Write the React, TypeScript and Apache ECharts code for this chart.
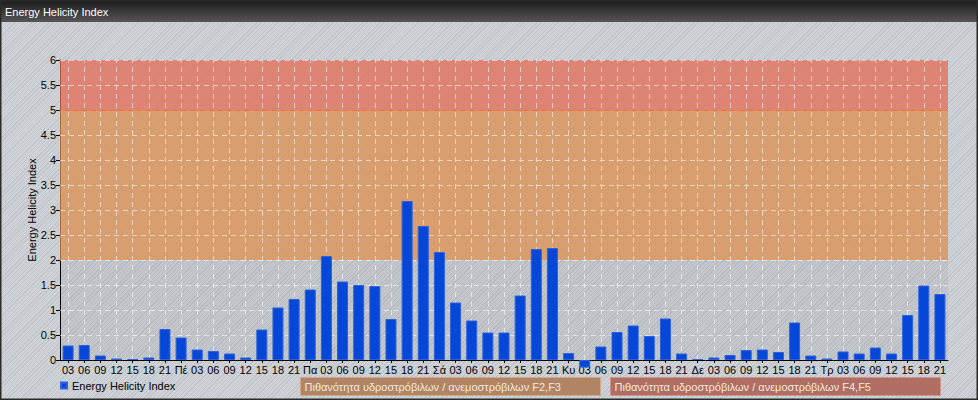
import React, { useEffect, useRef } from 'react';
import * as echarts from 'echarts';

const categories = [
  '03', '06', '09', '12', '15', '18', '21', 'Πέ',
  '03', '06', '09', '12', '15', '18', '21', 'Πα',
  '03', '06', '09', '12', '15', '18', '21', 'Σά',
  '03', '06', '09', '12', '15', '18', '21', 'Κυ',
  '03', '06', '09', '12', '15', '18', '21', 'Δε',
  '03', '06', '09', '12', '15', '18', '21', 'Τρ',
  '03', '06', '09', '12', '15', '18', '21',
];

const values = [
  0.29, 0.30, 0.09, 0.03, 0.02, 0.05, 0.62, 0.45,
  0.21, 0.18, 0.13, 0.05, 0.61, 1.05, 1.22, 1.41,
  2.08, 1.57, 1.50, 1.48, 0.82, 3.18, 2.68, 2.16,
  1.15, 0.79, 0.55, 0.55, 1.29, 2.22, 2.24, 0.14,
  -0.15, 0.27, 0.56, 0.69, 0.48, 0.83, 0.13, 0.02,
  0.05, 0.10, 0.20, 0.21, 0.16, 0.75, 0.09, 0.03,
  0.17, 0.13, 0.25, 0.13, 0.90, 1.49, 1.32,
];

const seriesName = 'Energy Helicity Index';
const chartTitle = 'Energy Helicity Index';
const yTickValues = [0.5, 1, 1.5, 2, 2.5, 3, 3.5, 4, 4.5, 5, 5.5, 6];
const zoneRanges = [[2, 5], [5, 6]];
const zoneLabels = [
  'Πιθανότητα υδροστρόβιλων / ανεμοστρόβιλων F2,F3',
  'Πιθανότητα υδροστρόβιλων / ανεμοστρόβιλων F4,F5',
];

const FONT = 'Liberation Sans, Arial, sans-serif';

export default function App() {
  const ref = useRef<HTMLDivElement>(null);

  useEffect(() => {
    if (!ref.current) return;
    const chart = echarts.init(ref.current, null, { renderer: 'svg' });
    const zoneColors = ['rgba(224,145,83,0.75)', 'rgba(232,111,88,0.75)'];
    const boxStyles = [
      { x: 300.5, w: 300, fill: '#b08464', stroke: '#cfa888' },
      { x: 610.5, w: 330, fill: '#b06e62', stroke: '#cc968a' },
    ];

    const markLineData: any[] = [];
    yTickValues.forEach((v) => markLineData.push({ yAxis: v }));
    categories.forEach((_, i) => markLineData.push({ xAxis: i }));
    markLineData.push({
      yAxis: zoneRanges[1][0],
      lineStyle: { type: 'solid', color: 'rgba(240,100,40,0.7)', width: 1 },
    });

    chart.setOption({
      animation: false,
      textStyle: { fontFamily: FONT },
      title: {
        text: chartTitle,
        left: 0,
        top: 1,
        textStyle: { color: '#ffffff', fontSize: 11, fontWeight: 'normal', fontFamily: FONT },
        z: 10,
      },
      legend: {
        data: [seriesName],
        left: 55,
        top: 375,
        icon: 'rect',
        itemWidth: 6,
        itemHeight: 6,
        itemGap: 4,
        textStyle: { fontSize: 11, color: '#000', fontFamily: FONT },
      },
      grid: {
        left: 60,
        right: 30,
        top: 60,
        bottom: 40,
        show: true,
        backgroundColor: 'rgba(50,60,70,0.07)',
        borderWidth: 0,
      },
      xAxis: {
        type: 'category',
        data: categories,
        axisLine: { lineStyle: { color: '#000', width: 1 } },
        axisTick: { show: true, length: 3, alignWithLabel: true, interval: 0, lineStyle: { color: '#000' } },
        axisLabel: { interval: 0, fontSize: 11, color: '#000', margin: 4, fontFamily: FONT },
        splitLine: { show: false },
      },
      yAxis: {
        type: 'value',
        min: 0,
        max: 6,
        interval: 0.5,
        name: 'Energy Helicity Index',
        nameLocation: 'middle',
        nameGap: 23,
        nameMoveOverlap: false,
        nameTextStyle: { fontSize: 11, color: '#000', fontFamily: FONT },
        axisLine: { show: true, lineStyle: { color: '#000', width: 1 } },
        axisTick: { show: true, length: 4, lineStyle: { color: '#000' } },
        axisLabel: { fontSize: 11, color: '#000', margin: 4, fontFamily: FONT },
        splitLine: { show: false },
      },
      series: [
        {
          name: seriesName,
          type: 'bar',
          data: values,
          barWidth: 11,
          clip: false,
          itemStyle: { color: '#0647d8', borderColor: '#2d62dc', borderWidth: 1 },
          markArea: {
            silent: true,
            z: 1,
            data: zoneRanges.map((r, i) => [
              { yAxis: r[0], itemStyle: { color: zoneColors[i] } },
              { yAxis: r[1] },
            ]),
          },
          markLine: {
            silent: true,
            z: 1.5,
            symbol: ['none', 'none'],
            label: { show: false },
            lineStyle: { color: 'rgba(255,255,255,0.55)', type: [5, 4], width: 1 },
            data: markLineData,
          },
        },
      ],
      graphic: [
        {
          type: 'rect',
          z: 5,
          shape: { x: 0, y: 0, width: 978, height: 22 },
          style: {
            fill: new echarts.graphic.LinearGradient(0, 0, 0, 1, [
              { offset: 0, color: '#1b1b1b' },
              { offset: 1, color: '#565656' },
            ]),
          },
        },
        {
          type: 'rect',
          z: 6,
          shape: { x: 0.5, y: 0.5, width: 977, height: 399 },
          style: { fill: 'none', stroke: '#2a2a2a', lineWidth: 2 },
          silent: true,
        },
        ...zoneLabels.flatMap((t, i) => [
          {
            type: 'rect',
            z: 5,
            shape: { x: boxStyles[i].x, y: 377.5, width: boxStyles[i].w, height: 18 },
            style: { fill: boxStyles[i].fill, stroke: boxStyles[i].stroke, lineWidth: 1 },
          },
          {
            type: 'text',
            z: 6,
            x: boxStyles[i].x + 4,
            y: 387,
            style: {
              text: t,
              fill: '#f4e9df',
              font: '11px ' + FONT,
              verticalAlign: 'middle',
            },
          },
        ]),
      ],
    });
    return () => chart.dispose();
  }, []);

  return (
    <div
      ref={ref}
      style={{
        position: 'absolute',
        left: 0,
        top: 0,
        width: 978,
        height: 400,
        background:
          'repeating-linear-gradient(135deg, #cfd3d7 0px, #cfd3d7 2px, #bec4ca 2px, #bec4ca 3px)',
      }}
    />
  );
}
